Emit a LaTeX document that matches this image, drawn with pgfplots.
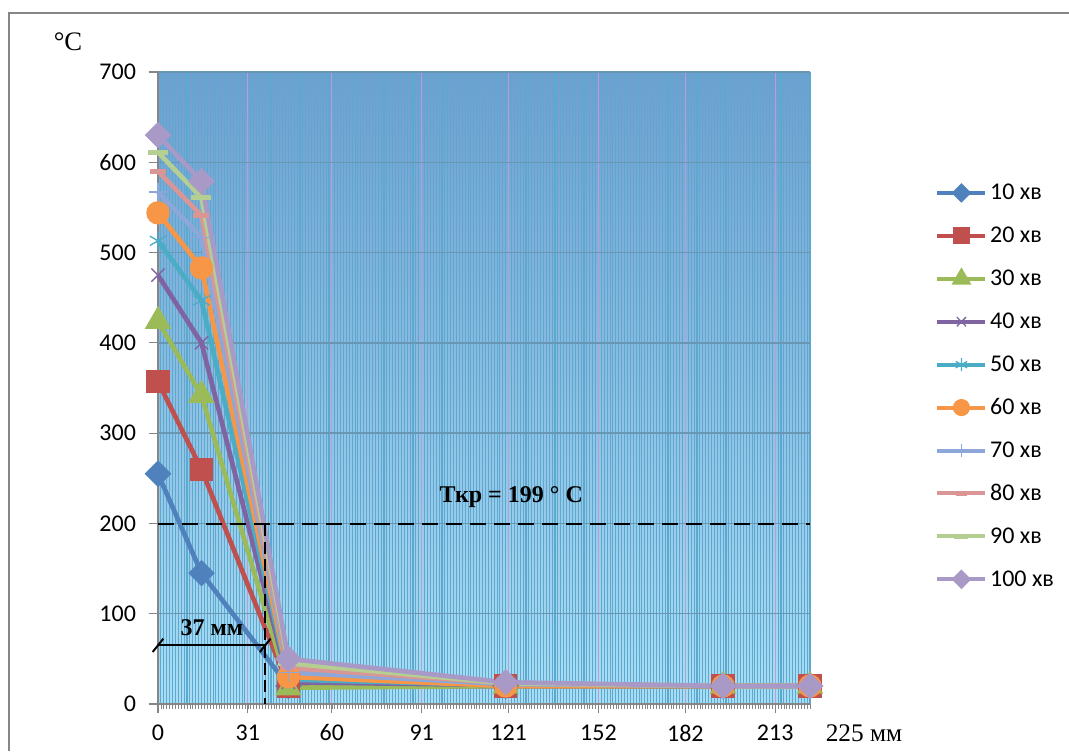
\documentclass[border=0pt]{standalone}
\usepackage{fontspec}
\setmainfont{Liberation Serif}
\newfontfamily\calib{Carlito}
\usepackage{pgfplots}
\pgfplotsset{compat=1.18}

\definecolor{c1}{HTML}{4F81BD}
\definecolor{c2}{HTML}{C0504D}
\definecolor{c3}{HTML}{9BBB59}
\definecolor{c4}{HTML}{8064A2}
\definecolor{c5}{HTML}{4BACC6}
\definecolor{c6}{HTML}{F79646}
\definecolor{c7}{HTML}{8CA7D8}
\definecolor{c8}{HTML}{D99694}
\definecolor{c9}{HTML}{B5CF92}
\definecolor{c10}{HTML}{A899C6}
\definecolor{bgtop}{RGB}{112,158,208}
\definecolor{bgbot}{RGB}{168,222,245}
\definecolor{stripe}{RGB}{92,168,206}
\definecolor{lav}{RGB}{178,160,214}
\definecolor{hgrid}{RGB}{105,150,178}
\definecolor{axgray}{RGB}{134,134,134}

% temperature profiles: x in mm, T in deg C
\pgfplotstableread{
x    t10 t20 t30 t40 t50 t60 t70 t80 t90 t100
0    255 357 424 475 513 544 567 590 611 630
15   145 260 342 400 447 483 517 541 561 579
45   20  20  18  24  27  30  35  40  45  50
120  20  20  20  21  21  20  22  23  23  24
195  20  20  20  20  20  20  20  20  20  20
225  20  20  20  20  20  20  20  20  20  20
}\temps

\begin{document}
\begin{tikzpicture}
\useasboundingbox (0,0) rectangle (801.75pt,563.25pt);
\draw[axgray, line width=1.5pt] (6pt,553.5pt) -- (801.75pt,553.5pt);
\draw[axgray, line width=1.5pt] (6.75pt,0pt) -- (6.75pt,553.5pt);
\node[font=\fontsize{20}{22}\selectfont] at (51pt,531.75pt) {°C};
\node[font=\fontsize{19}{21}\selectfont] at (648pt,13.5pt) {225 мм};

\begin{axis}[
    at={(118.5pt,35.25pt)}, anchor=south west,
    scale only axis, width=489pt, height=474pt,
    xmin=0, xmax=225, ymin=0, ymax=700,
    clip=false,
    axis lines*=left,
    axis line style={axgray, line width=1pt},
    axis background/.style={top color=bgtop, bottom color=bgbot},
    xtick={0,31,60,91,121,152,182,213},
    minor xtick={0,1,...,225},
    ytick={0,100,...,700},
    tick align=outside,
    major tick length=7pt, minor tick length=3.5pt,
    tick style={axgray, line width=0.8pt},
    minor tick style={axgray, line width=0.5pt},
    grid=both,
    minor grid style={stripe, line width=0.8pt},
    major grid style={lav, line width=0.8pt},
    ymajorgrids=false,
    extra y ticks={100,200,...,700},
    extra y tick labels={},
    extra y tick style={grid=major, major grid style={hgrid, line width=1pt}, major tick length=0pt},
    /pgf/number format/assume math mode=true,
    tick label style={font=\calib\fontsize{18}{20}\selectfont},
    xticklabel style={yshift=-5pt},
    yticklabel style={xshift=-6pt},
    legend cell align=left,
    legend style={at={(axis description cs:1.192,0.826)}, anchor=north west,
        draw=none, fill=none, inner sep=0pt, row sep=16.2pt,
        font=\calib\fontsize{18}{20}\selectfont,
        nodes={inner xsep=2pt, inner ysep=0pt}},
    legend image code/.code={
        \path[draw=none, fill=none] (0pt,-8pt) rectangle (36pt,8pt);
        \draw[mark repeat=2, mark phase=2, #1] plot coordinates {(0pt,0pt) (18pt,0pt) (36pt,0pt)};},
    every legend image post/.append style={line width=3pt, every mark/.append style={scale=0.7}},
    every axis plot/.append style={line width=3.5pt},
]
\addplot[c1, mark=square*, mark size=5.3pt, mark options={rotate=45, solid}] table[y=t10] {\temps};
\addplot[c2, mark=square*, mark size=7pt, mark options={solid}] table[y=t20] {\temps};
\addplot[c3, mark=triangle*, mark size=8pt, mark options={solid}] table[y=t30] {\temps};
\addplot[c4, mark=x, mark size=7pt, mark options={solid, line width=1pt}] table[y=t40] {\temps};
\addplot[c5, mark=asterisk, mark size=7pt, mark options={solid, line width=1pt}] table[y=t50] {\temps};
\addplot[c6, mark=*, mark size=7pt, mark options={solid}] table[y=t60] {\temps};
\addplot[c7, mark=+, mark size=7pt, mark options={solid, line width=1pt}] table[y=t70] {\temps};
\addplot[c8, mark=-, mark size=6pt, mark options={solid, line width=3.5pt}] table[y=t80] {\temps};
\addplot[c9, mark=-, mark size=7.5pt, mark options={solid, line width=4pt}] table[y=t90] {\temps};
\addplot[c10, mark=square*, mark size=5.3pt, mark options={rotate=45, solid}] table[y=t100] {\temps};
\legend{10 хв, 20 хв, 30 хв, 40 хв, 50 хв, 60 хв, 70 хв, 80 хв, 90 хв, 100 хв}

% critical temperature and depth
\addplot[black, line width=1.5pt, dash pattern=on 12pt off 6pt, forget plot] coordinates {(0,199) (225,199)};
\addplot[black, line width=1.5pt, dash pattern=on 9pt off 4pt, forget plot] coordinates {(37,199) (37,0)};
\addplot[black, line width=1.5pt, forget plot] coordinates {(0,65) (37,65)};
\draw[black, line width=1.5pt] (axis cs:0,65) ++(-4pt,-5pt) -- ++(8pt,10pt);
\draw[black, line width=1.5pt] (axis cs:37,65) ++(-4pt,-5pt) -- ++(8pt,10pt);
\node[font=\bfseries\fontsize{18}{20}\selectfont] at (axis cs:121.9,229) {Ткр = 199 ° С};
\node[font=\bfseries\fontsize{18}{20}\selectfont] at (axis cs:18.6,85) {37 мм};
\end{axis}
\end{tikzpicture}
\end{document}
